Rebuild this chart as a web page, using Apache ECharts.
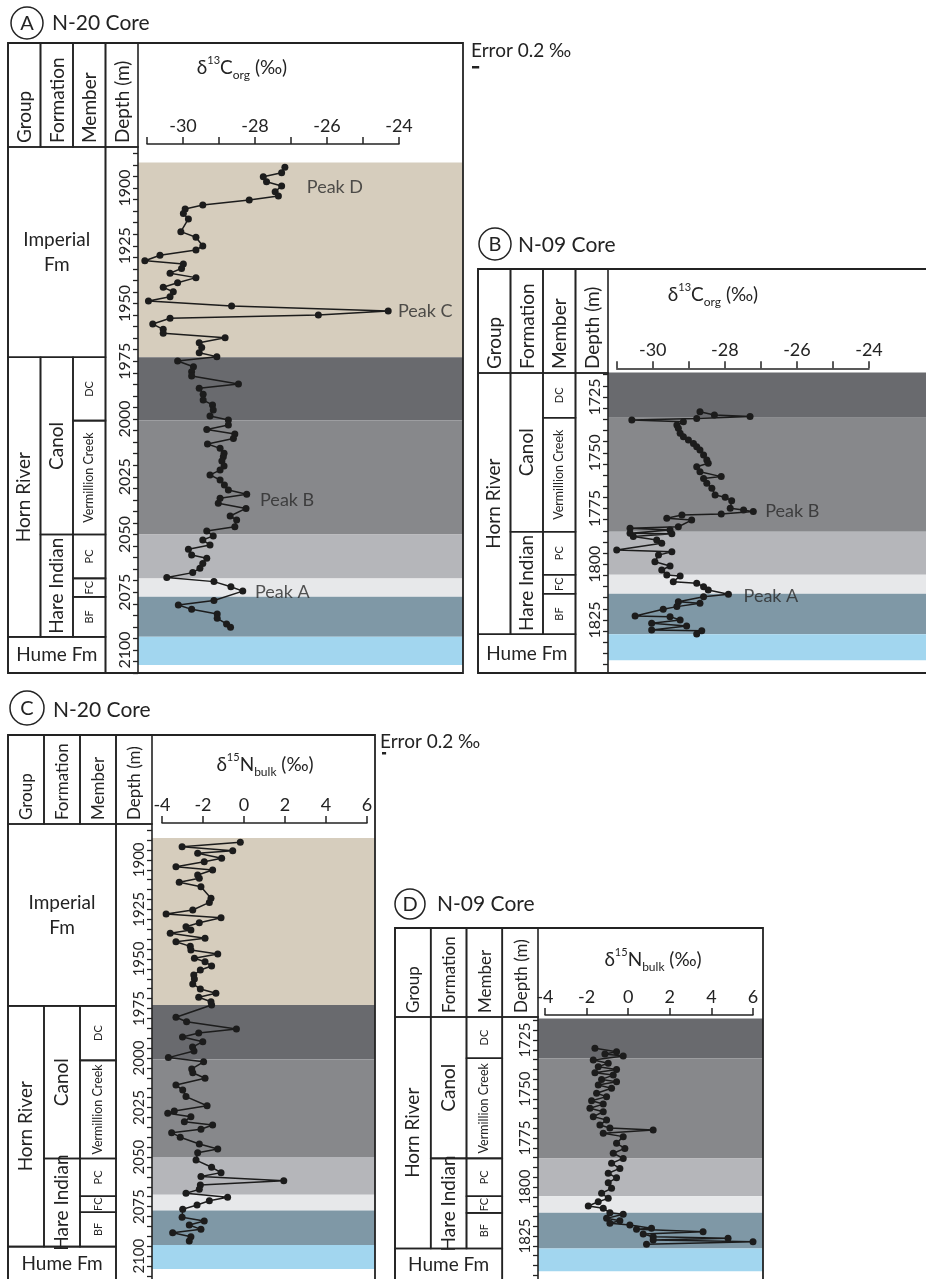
<!DOCTYPE html>
<html><head><meta charset="utf-8">
<script src="https://cdn.jsdelivr.net/npm/echarts@6/dist/echarts.min.js"></script>
<style>html,body{margin:0;padding:0;background:#fff}#c{width:926px;height:1279px}</style>
</head><body><div id="c"></div>
<script>
// ===================== DATA =====================
// Panel A : N-20 core, d13C org (permil) vs depth (m)
const aDepth = [1891.0,1893.4,1895.1,1897.3,1899.1,1901.6,1903.5,1905.2,1907.4,1909.1,1911.0,1913.4,1918.9,1921.3,1925.1,1926.8,1929.1,1931.5,1932.9,1934.8,1936.9,1938.8,1941.0,1943.0,1944.9,1947.1,1948.9,1951.1,1953.2,1955.0,1956.4,1958.9,1961.2,1962.9,1964.8,1967.0,1969.1,1971.3,1973.0,1974.9,1977.4,1979.5,1981.4,1984.8,1986.7,1989.3,1991.8,1993.9,1996.1,1998.7,2000.4,2002.6,2004.5,2006.5,2008.4,2010.8,2012.7,2014.8,2016.3,2018.2,2020.3,2022.1,2024.2,2026.4,2028.6,2030.7,2032.6,2034.3,2036.5,2038.7,2042.0,2043.7,2046.6,2048.5,2050.6,2052.4,2054.5,2056.4,2058.9,2060.3,2062.5,2064.6,2066.5,2068.6,2070.4,2072.6,2074.5,2078.6,2080.5,2082.4,2084.4,2086.3,2088.7,2090.2];
const aValue = [-27.17,-27.26,-27.77,-27.68,-27.26,-27.44,-27.35,-28.16,-29.45,-29.94,-29.99,-29.85,-30.06,-29.64,-29.45,-29.64,-30.64,-31.06,-29.99,-30.04,-30.36,-29.64,-30.15,-30.55,-30.27,-30.36,-30.96,-28.65,-24.30,-26.24,-30.36,-30.84,-30.55,-30.55,-28.83,-29.55,-29.48,-29.55,-29.06,-30.15,-29.71,-29.76,-29.76,-28.46,-29.55,-29.44,-29.44,-29.18,-29.16,-29.25,-28.74,-28.74,-29.34,-28.56,-28.60,-29.32,-28.97,-28.86,-28.88,-28.92,-28.86,-28.97,-29.25,-28.97,-28.85,-28.74,-28.23,-28.97,-29.02,-28.25,-28.69,-28.51,-28.56,-29.34,-29.16,-29.45,-29.25,-29.85,-29.76,-29.34,-29.45,-29.53,-29.73,-30.45,-29.14,-28.67,-28.34,-29.14,-30.13,-29.76,-29.05,-29.05,-28.79,-28.68];
const aPeakNames = ['Peak D','Peak C','Peak B','Peak A'];
const aPeakValue = [-26.56,-24.03,-27.86,-28.00];
const aPeakDepth = [1899.6,1953.2,2035.1,2074.9];

// Panel B : N-09 core, d13C org
const bDepth = [1731.6,1733.1,1733.8,1734.6,1735.3,1736.1,1737.6,1739.0,1741.3,1742.8,1744.3,1745.8,1747.3,1748.8,1751.0,1753.3,1754.7,1756.3,1758.5,1760.7,1761.5,1763.7,1765.9,1768.9,1770.0,1771.5,1774.9,1775.7,1776.4,1777.5,1777.9,1779.4,1780.2,1783.2,1783.9,1784.6,1786.1,1786.3,1787.6,1789.1,1790.6,1793.6,1794.4,1795.9,1798.9,1800.8,1802.6,1804.8,1805.3,1807.8,1808.5,1810.1,1811.5,1813.5,1814.6,1816.8,1817.5,1819.0,1820.2,1823.2,1823.5,1825.0,1826.5,1827.7,1829.5,1829.8,1831.3];
const bValue = [-28.69,-28.29,-27.30,-28.78,-30.58,-29.15,-29.33,-29.29,-29.24,-29.15,-29.01,-28.87,-28.78,-28.69,-28.59,-28.50,-28.46,-28.78,-28.69,-28.10,-28.59,-28.50,-28.36,-28.27,-27.99,-27.81,-27.85,-27.48,-27.21,-28.10,-29.19,-29.61,-28.92,-29.29,-30.63,-29.52,-30.63,-29.47,-30.54,-29.89,-29.75,-31.00,-29.47,-29.84,-29.94,-29.52,-29.75,-29.61,-29.24,-29.43,-28.78,-28.59,-28.46,-27.90,-28.59,-29.29,-28.69,-29.33,-29.71,-30.49,-29.52,-29.24,-30.03,-29.06,-30.03,-28.64,-28.78];
const bPeakNames = ['Peak B','Peak A'];
const bPeakValue = [-26.88,-27.48];
const bPeakDepth = [1776.1,1814.2];

// Panel C : N-20 core, d15N bulk
const cDepth = [1891.1,1893.3,1895.3,1896.6,1899.1,1900.9,1903.4,1905.0,1907.5,1909.2,1911.2,1913.4,1919.2,1921.3,1925.1,1927.1,1929.0,1931.5,1933.5,1935.2,1936.8,1939.3,1941.1,1943.4,1945.2,1947.2,1949.4,1951.1,1953.3,1955.3,1957.8,1959.8,1962.3,1964.8,1967.0,1969.0,1971.2,1972.9,1979.0,1981.3,1984.9,1986.9,1988.9,1991.3,1994.0,1996.0,1999.3,2001.4,2005.0,2006.9,2009.7,2013.1,2015.6,2018.9,2023.5,2026.1,2027.3,2029.0,2031.5,2033.2,2035.3,2037.0,2039.3,2042.7,2045.2,2047.1,2050.8,2054.4,2057.1,2059.1,2061.2,2063.3,2065.5,2067.5,2069.5,2071.2,2073.4,2075.5,2079.5,2081.4,2083.4,2085.6,2087.3,2089.3,2091.5];
const cValue = [-0.18,-3.02,-0.55,-2.26,-1.09,-1.94,-3.32,-1.53,-2.26,-2.18,-3.16,-2.10,-1.61,-1.69,-2.50,-3.80,-1.12,-2.18,-2.83,-2.59,-3.60,-1.90,-3.32,-2.62,-2.59,-1.28,-2.42,-1.90,-1.58,-2.13,-2.45,-2.42,-2.50,-2.13,-1.37,-2.21,-1.61,-1.58,-3.32,-2.80,-0.37,-2.21,-3.00,-2.01,-2.51,-2.44,-3.69,-1.97,-2.55,-2.50,-1.90,-3.32,-2.99,-2.83,-1.80,-3.40,-3.72,-2.59,-2.91,-1.53,-2.10,-3.53,-3.11,-2.18,-1.28,-2.26,-2.34,-1.58,-1.12,-2.10,1.94,-2.13,-2.18,-2.83,-0.80,-1.69,-2.29,-2.99,-3.02,-1.94,-2.67,-2.10,-3.48,-2.59,-2.67];

// Panel D : N-09 core, d15N bulk
const dDepth = [1729.2,1731.0,1732.1,1733.2,1735.2,1736.9,1738.6,1740.0,1741.7,1742.9,1745.1,1746.3,1748.0,1749.6,1752.2,1753.9,1756.0,1757.7,1759.8,1761.6,1764.1,1765.8,1768.4,1769.9,1770.9,1772.6,1774.3,1777.7,1780.3,1782.8,1785.4,1787.9,1790.5,1793.0,1795.3,1797.8,1800.7,1803.2,1805.8,1807.5,1809.7,1810.9,1813.1,1813.9,1816.0,1817.2,1818.5,1819.4,1821.1,1821.6,1822.8,1824.0,1825.4,1826.2,1827.0,1827.9,1829.2];
const dValue = [-1.60,-0.56,-1.12,-0.24,-1.68,-0.96,-1.44,-0.56,-1.60,-0.72,-1.28,-0.56,-1.44,-0.80,-1.52,-1.04,-1.76,-1.20,-1.84,-1.20,-1.68,-1.04,-1.36,-0.88,1.20,-1.20,-0.24,-0.56,-0.16,-0.72,-0.24,-0.80,-0.40,-0.96,-0.56,-0.96,-0.80,-1.28,-0.96,-1.44,-1.92,-1.20,-0.88,-0.24,-1.04,-0.40,-0.88,0.08,1.12,0.40,3.60,0.72,1.20,4.80,1.20,6.00,0.88];

// Stratigraphic units (tops of each unit, last value = base of the Hume band)
const n20Units = ['Imperial Fm','DC','Vermillion Creek','PC','FC','BF','Hume Fm'];
const n20Contacts = [1889.0,1973.3,2000.7,2050.0,2069.0,2077.0,2094.3,2106.5];
const n09Units = ['DC','Vermillion Creek','PC','FC','BF','Hume Fm'];
const n09Contacts = [1714.0,1734.3,1785.4,1804.7,1813.2,1831.4,1843.0];

// ===================== STYLE / LAYOUT =====================
const FONT = 'Lato, "Open Sans", sans-serif';
const INK = '#232323';
const unitColor = {
  'Imperial Fm':'#d6cdbd','DC':'#696a6e','Vermillion Creek':'#87888b','PC':'#b5b6ba',
  'FC':'#e7e8ea','BF':'#7f98a6','Hume Fm':'#a2d6ef'
};

const panels = [
  {letter:'A', core:'N-20 Core', kind:'C', box:{l:8,t:43,r:463,b:673}, hdr:147, plotL:138,
   ref:[1900,188], ppm:2.31, yMin:1885, yMax:2110,
   xa:{min:-31,max:-24,interval:1,l:147,r:399,lineY:144,even:true},
   depth:aDepth, value:aValue, peaks:[aPeakNames,aPeakValue,aPeakDepth],
   units:n20Units, contacts:n20Contacts, core20:true,
   title:{x:242,y:68}, circ:{x:27,y:23,r:16}, coreText:{x:52,y:23},
   err:{x:471,y:51,bx:472,by:66,bw:7.2}, hdrFont:19, depthFont:16},
  {letter:'B', core:'N-09 Core', kind:'C', box:{l:478,t:269,r:933,b:673}, hdr:373, plotL:608,
   ref:[1725,397], ppm:2.23, yMin:1715, yMax:1845,
   xa:{min:-31,max:-24,interval:1,l:616.7,r:869,lineY:368.3,even:true},
   depth:bDepth, value:bValue, peaks:[bPeakNames,bPeakValue,bPeakDepth],
   units:n09Units, contacts:n09Contacts, core20:false,
   title:{x:713,y:295}, circ:{x:495,y:244,r:16}, coreText:{x:518,y:245},
   err:null, hdrFont:19, depthFont:16},
  {letter:'C', core:'N-20 Core', kind:'N', box:{l:8,t:735,r:375,b:1282}, hdr:824, plotL:152,
   ref:[1900,860], ppm:1.99, yMin:1885, yMax:2110,
   xa:{min:-4,max:6,interval:2,l:162,r:367,lineY:823,even:false},
   depth:cDepth, value:cValue, peaks:null,
   units:n20Units, contacts:n20Contacts, core20:true,
   title:{x:265,y:765}, circ:{x:27,y:708,r:17}, coreText:{x:53,y:710},
   err:{x:380,y:742,bx:382,by:752,bw:4.1}, hdrFont:17, depthFont:15},
  {letter:'D', core:'N-09 Core', kind:'N', box:{l:395,t:928,r:763,b:1282}, hdr:1017, plotL:538,
   ref:[1725,1040], ppm:1.96, yMin:1715, yMax:1845,
   xa:{min:-4,max:6,interval:2,l:545,r:753,lineY:1015,even:false},
   depth:dDepth, value:dValue, peaks:null,
   units:n09Units, contacts:n09Contacts, core20:false,
   title:{x:653,y:960}, circ:{x:410,y:904,r:15}, coreText:{x:437,y:904},
   err:null, hdrFont:17, depthFont:15}
];

const yPx = (p, d) => p.ref[1] + (d - p.ref[0]) * p.ppm;
const dAt = (p, y) => p.ref[0] + (y - p.ref[1]) / p.ppm;

const grid = [], xAxis = [], yAxis = [], series = [], graphic = [];

panels.forEach((p, pi) => {
  const top = yPx(p, p.yMin), h = yPx(p, p.yMax) - top;
  const g0 = grid.length;
  grid.push({left:p.box.l, top:top, width:p.plotL - p.box.l, height:h});
  grid.push({left:p.plotL, top:top, width:p.box.r - p.plotL, height:h});
  grid.push({left:p.xa.l, top:top, width:p.xa.r - p.xa.l, height:h});

  const yBase = {type:'value', inverse:true, min:p.yMin, max:p.yMax, interval:5};
  xAxis.push({gridIndex:g0, type:'value', min:0, max:4, show:false});
  yAxis.push(Object.assign({gridIndex:g0, show:false}, yBase));
  xAxis.push({gridIndex:g0+1, type:'value', min:0, max:1, show:false});
  yAxis.push(Object.assign({gridIndex:g0+1, position:'left', z:50,
    axisLine:{show:false},
    axisTick:{show:true, length:5, lineStyle:{color:INK, width:1.3}},
    axisLabel:{show:true, rotate:90, margin:5, fontSize:p.depthFont, fontFamily:FONT, color:INK,
      formatter:(v) => (v % 25 === 0 ? String(v) : '')},
    splitLine:{show:false}}, yBase));
  xAxis.push({gridIndex:g0+2, type:'value', position:'top', min:p.xa.min, max:p.xa.max, interval:p.xa.interval,
    offset: top - p.xa.lineY, z:50,
    axisLine:{show:true, lineStyle:{color:INK, width:1.5}},
    axisTick:{show:true, inside:false, length:7, lineStyle:{color:INK, width:1.5}},
    axisLabel:{show:true, margin:9, fontSize:18, fontFamily:FONT, color:INK,
      formatter:(v) => (p.xa.even ? (Math.round(v) % 2 === 0 ? String(v) : '') : String(v))},
    splitLine:{show:false}});
  yAxis.push(Object.assign({gridIndex:g0+2, show:false}, yBase));

  const ax = xAxis.length - 3;
  const bandData = p.units.map((u, i) => [0, 1, p.contacts[i], p.contacts[i+1]]);
  series.push({type:'custom', xAxisIndex:ax+1, yAxisIndex:ax+1, clip:false, silent:true, z:1,
    data:bandData,
    renderItem:(params, api) => {
      const cs = params.coordSys;
      const y0 = api.coord([0, api.value(2)])[1], y1 = api.coord([0, api.value(3)])[1];
      return {type:'rect', shape:{x:cs.x, y:y0, width:cs.width, height:y1 - y0},
        style:{fill:unitColor[p.units[params.dataIndex]]}};
    }});

  const hdrD = dAt(p, p.hdr), botD = dAt(p, p.box.b);
  const C = p.contacts;
  let cells;
  if (p.core20) {
    cells = [
      {c:[0,3], d:[hdrD, C[1]], t:'Imperial\nFm', rot:false, s:19},
      {c:[0,1], d:[C[1], C[6]], t:'Horn River', rot:true, s:19},
      {c:[1,2], d:[C[1], C[3]], t:'Canol', rot:true, s:19},
      {c:[1,2], d:[C[3], C[6]], t:'Hare Indian', rot:true, s:19},
      {c:[2,3], d:[C[1], C[2]], t:'DC', rot:true, s:11},
      {c:[2,3], d:[C[2], C[3]], t:'Vermillion Creek', rot:true, s:12.5},
      {c:[2,3], d:[C[3], C[4]], t:'PC', rot:true, s:11},
      {c:[2,3], d:[C[4], C[5]], t:'FC', rot:true, s:11},
      {c:[2,3], d:[C[5], C[6]], t:'BF', rot:true, s:11},
      {c:[0,3], d:[C[6], botD], t:'Hume Fm', rot:false, s:19},
      {c:[3,4], d:[hdrD, botD], t:'', rot:false, s:11}
    ];
  } else {
    cells = [
      {c:[0,1], d:[hdrD, C[5]], t:'Horn River', rot:true, s:19},
      {c:[1,2], d:[hdrD, C[2]], t:'Canol', rot:true, s:19},
      {c:[1,2], d:[C[2], C[5]], t:'Hare Indian', rot:true, s:19},
      {c:[2,3], d:[hdrD, C[1]], t:'DC', rot:true, s:11},
      {c:[2,3], d:[C[1], C[2]], t:'Vermillion Creek', rot:true, s:12.5},
      {c:[2,3], d:[C[2], C[3]], t:'PC', rot:true, s:11},
      {c:[2,3], d:[C[3], C[4]], t:'FC', rot:true, s:11},
      {c:[2,3], d:[C[4], C[5]], t:'BF', rot:true, s:11},
      {c:[0,3], d:[C[5], botD], t:'Hume Fm', rot:false, s:19},
      {c:[3,4], d:[hdrD, botD], t:'', rot:false, s:11}
    ];
  }
  series.push({type:'custom', xAxisIndex:ax, yAxisIndex:ax, clip:false, silent:true, z:5,
    data:cells.map(c => [c.c[0], c.c[1], c.d[0], c.d[1]]),
    renderItem:(params, api) => {
      const c = cells[params.dataIndex];
      const p0 = api.coord([api.value(0), api.value(2)]);
      const p1 = api.coord([api.value(1), api.value(3)]);
      const x = p0[0], y = p0[1], w = p1[0] - p0[0], hh = p1[1] - p0[1];
      const ch = [{type:'rect', shape:{x, y, width:w, height:hh},
        style:{fill:null, stroke:INK, lineWidth:1.6}}];
      if (c.t) ch.push({type:'text', x:x + w/2, y:y + hh/2, rotation:c.rot ? Math.PI/2 : 0,
        style:{text:c.t, fill:INK, fontSize:c.s, fontFamily:FONT, align:'center', verticalAlign:'middle',
          lineHeight:Math.round(c.s*1.3)}});
      return {type:'group', children:ch};
    }});

  series.push({type:'line', xAxisIndex:ax+2, yAxisIndex:ax+2, clip:false, z:10,
    data:p.depth.map((d, i) => [p.value[i], d]),
    symbol:'circle', symbolSize:7, showSymbol:true,
    lineStyle:{color:'#1c1c1c', width:1.5}, itemStyle:{color:'#1c1c1c'}});

  if (p.peaks) {
    series.push({type:'scatter', xAxisIndex:ax+2, yAxisIndex:ax+2, clip:false, z:11, symbolSize:0,
      data:p.peaks[0].map((n, i) => ({name:n, value:[p.peaks[1][i], p.peaks[2][i]]})),
      label:{show:true, position:'right', distance:0, formatter:'{b}', fontSize:18, fontFamily:FONT, color:'#2a2a2a'}});
  }

  const cw = (p.plotL - p.box.l) / 4;
  graphic.push({type:'rect', z:100, shape:{x:p.box.l, y:p.box.t, width:p.box.r - p.box.l, height:p.box.b - p.box.t},
    style:{fill:null, stroke:INK, lineWidth:1.8}});
  ['Group','Formation','Member','Depth (m)'].forEach((t, i) => {
    const x0 = p.box.l + i*cw;
    graphic.push({type:'rect', z:100, shape:{x:x0, y:p.box.t, width:cw, height:p.hdr - p.box.t},
      style:{fill:null, stroke:INK, lineWidth:1.6}});
    graphic.push({type:'text', z:101, x:x0 + cw/2 + 1, y:p.hdr - 4, rotation:Math.PI/2,
      style:{text:t, fill:INK, fontSize:p.hdrFont, fontFamily:FONT, align:'left', verticalAlign:'middle'}});
  });
  graphic.push({type:'circle', z:100, shape:{cx:p.circ.x, cy:p.circ.y, r:p.circ.r},
    style:{fill:null, stroke:INK, lineWidth:1.5}});
  graphic.push({type:'text', z:101, x:p.circ.x, y:p.circ.y + 1,
    style:{text:p.letter, fill:INK, fontSize:20, fontFamily:FONT, align:'center', verticalAlign:'middle'}});
  graphic.push({type:'text', z:101, x:p.coreText.x, y:p.coreText.y,
    style:{text:p.core, fill:INK, fontSize:21, fontFamily:FONT, align:'left', verticalAlign:'middle'}});
  const iso = p.kind === 'C' ? ['13','C','org'] : ['15','N','bulk'];
  graphic.push({type:'text', z:101, x:p.title.x, y:p.title.y,
    style:{text:'{m|δ}{s|' + iso[0] + '}{m|' + iso[1] + '}{b|' + iso[2] + '}{m| (‰)}',
      align:'center', verticalAlign:'middle', fill:INK,
      rich:{m:{fontSize:19, fontFamily:FONT, lineHeight:26, fill:INK},
            s:{fontSize:11, fontFamily:FONT, lineHeight:11, verticalAlign:'top', fill:INK},
            b:{fontSize:12, fontFamily:FONT, lineHeight:12, verticalAlign:'bottom', fill:INK}}}});
  if (p.err) {
    graphic.push({type:'text', z:101, x:p.err.x, y:p.err.y,
      style:{text:'Error 0.2 ‰', fill:INK, fontSize:19, fontFamily:FONT, align:'left', verticalAlign:'middle'}});
    graphic.push({type:'rect', z:101, shape:{x:p.err.bx, y:p.err.by, width:p.err.bw, height:2.5},
      style:{fill:INK}});
  }
});

const chart = echarts.init(document.getElementById('c'), null, {renderer:'canvas'});
chart.setOption({animation:false, backgroundColor:'#fff', grid, xAxis, yAxis, series, graphic:{elements:graphic}});
</script></body></html>
